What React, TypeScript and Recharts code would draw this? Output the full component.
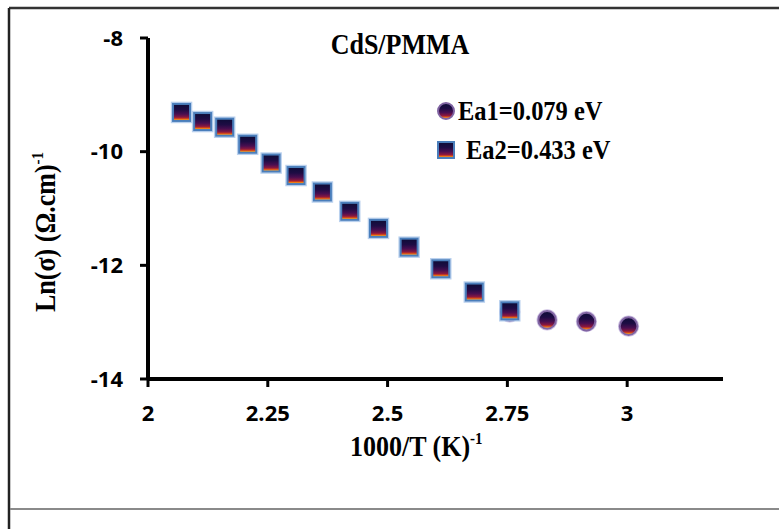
import React from 'react';
import { ScatterChart, Scatter, XAxis, YAxis } from 'recharts';

// Ea1 series (circles)
const ea1X = [2.755, 2.833, 2.915, 3.003];
const ea1Y = [-12.82, -12.96, -12.99, -13.07];

// Ea2 series (squares)
const ea2X = [2.070, 2.114, 2.160, 2.208, 2.257, 2.309, 2.364, 2.421, 2.481, 2.545, 2.611, 2.681, 2.755];
const ea2Y = [-9.31, -9.47, -9.57, -9.87, -10.20, -10.42, -10.71, -11.05, -11.35, -11.68, -12.06, -12.47, -12.80];

const xTicks = [2, 2.25, 2.5, 2.75, 3];
const yTicks = [-14, -12, -10, -8];

const chartTitle = 'CdS/PMMA';
const legendLabels = ['Ea1=0.079 eV', 'Ea2=0.433 eV'];

const ea1Data = ea1X.map((x, i) => ({ x, y: ea1Y[i] }));
const ea2Data = ea2X.map((x, i) => ({ x, y: ea2Y[i] }));

const W = 779;
const H = 529;

const GradDefs = () => (
  <defs>
    <linearGradient id="mkGrad" x1="0" y1="0" x2="0" y2="1">
      <stop offset="0%" stopColor="#0c0c36" />
      <stop offset="35%" stopColor="#1e0c44" />
      <stop offset="60%" stopColor="#4a0e50" />
      <stop offset="78%" stopColor="#8a1840" />
      <stop offset="86%" stopColor="#d0401c" />
      <stop offset="92%" stopColor="#f08a18" />
      <stop offset="100%" stopColor="#f6c890" />
    </linearGradient>
  </defs>
);

const SquareShape = (props: any) => {
  const { cx, cy } = props;
  if (cx == null || cy == null) return null;
  const s = 17;
  return (
    <g>
      <rect x={cx - s / 2 - 1.5} y={cy - s / 2 - 1.5} width={s + 3} height={s + 3} fill="none" stroke="#a9c6ea" strokeWidth={1.5} opacity={0.8} />
      <rect x={cx - s / 2} y={cy - s / 2} width={s} height={s} fill="url(#mkGrad)" stroke="#4a7ebb" strokeWidth={2} />
    </g>
  );
};

const CircleShape = (props: any) => {
  const { cx, cy } = props;
  if (cx == null || cy == null) return null;
  return (
    <g>
      <circle cx={cx} cy={cy} r={10} fill="none" stroke="#c0b0dc" strokeWidth={1.2} opacity={0.8} />
      <circle cx={cx} cy={cy} r={8.8} fill="url(#mkGrad)" stroke="#8064a2" strokeWidth={2} />
    </g>
  );
};

const tickStyle = { fontFamily: '"Open Sans", sans-serif', fontWeight: 700, fontSize: 22, fill: '#000' };
const serif = '"Liberation Serif", "Times New Roman", serif';

const STRETCH = 1.13;

const StretchText = ({ x, y, size, anchor, children }: any) => (
  <g transform={`translate(${x},${y}) scale(1,${STRETCH})`}>
    <text x={0} y={0} textAnchor={anchor || 'start'} fontFamily={serif} fontWeight={700} fontSize={size} fill="#000">
      {children}
    </text>
  </g>
);

export default function App() {
  return (
    <div style={{ position: 'absolute', left: 0, top: 0, width: W, height: H, background: '#fff' }}>
      <svg width={0} height={0} style={{ position: 'absolute' }}>
        <GradDefs />
      </svg>
      <ScatterChart width={W} height={H} margin={{ top: 38, right: 56, bottom: 120, left: 88 }}>
        <XAxis
          type="number"
          dataKey="x"
          domain={[2, 3.2]}
          ticks={xTicks}
          allowDataOverflow
          height={30}
          axisLine={{ stroke: '#000', strokeWidth: 4 }}
          tickLine={{ stroke: '#000', strokeWidth: 3 }}
          tickSize={8}
          tickMargin={18}
          tick={tickStyle}
        />
        <YAxis
          type="number"
          dataKey="y"
          domain={[-14, -8]}
          ticks={yTicks}
          allowDataOverflow
          width={60}
          axisLine={{ stroke: '#000', strokeWidth: 4 }}
          tickLine={{ stroke: '#000', strokeWidth: 3 }}
          tickSize={8}
          tickMargin={17}
          tick={tickStyle}
        />
        <Scatter name={legendLabels[0]} data={ea1Data} shape={CircleShape} isAnimationActive={false} />
        <Scatter name={legendLabels[1]} data={ea2Data} shape={SquareShape} isAnimationActive={false} />
      </ScatterChart>
      <svg width={W} height={H} style={{ position: 'absolute', left: 0, top: 0, pointerEvents: 'none' }}>
        {/* frame */}
        <line x1={9} y1={8} x2={779} y2={8} stroke="#333" strokeWidth={2.5} />
        <line x1={9} y1={8} x2={9} y2={529} stroke="#222" strokeWidth={2.5} />
        <line x1={10} y1={509} x2={779} y2={509} stroke="#8a8a8a" strokeWidth={2} />
        {/* title */}
        <StretchText x={400} y={54} size={26} anchor="middle">{chartTitle}</StretchText>
        {/* x axis title */}
        <StretchText x={350} y={456} size={26}>
          1000/T (K)
          <tspan fontSize={15} dy={-11}>-1</tspan>
        </StretchText>
        {/* y axis title */}
        <text
          x={0}
          y={0}
          transform="translate(55,232) rotate(-90) scale(1,1.1)"
          textAnchor="middle"
          fontFamily={serif}
          fontWeight={700}
          fontSize={26}
          fill="#000"
        >
          Ln(σ) (Ω.cm)
          <tspan fontSize={15} dy={-11}>-1</tspan>
        </text>
        {/* legend */}
        <g>
          <circle cx={446} cy={111} r={8} fill="url(#mkGrad)" stroke="#8064a2" strokeWidth={2} />
          <StretchText x={458} y={120} size={24.5}>{legendLabels[0]}</StretchText>
          <rect x={438} y={142} width={16} height={16} fill="url(#mkGrad)" stroke="#4a7ebb" strokeWidth={2} />
          <StretchText x={466} y={159} size={24.5}>{legendLabels[1]}</StretchText>
        </g>
      </svg>
    </div>
  );
}
